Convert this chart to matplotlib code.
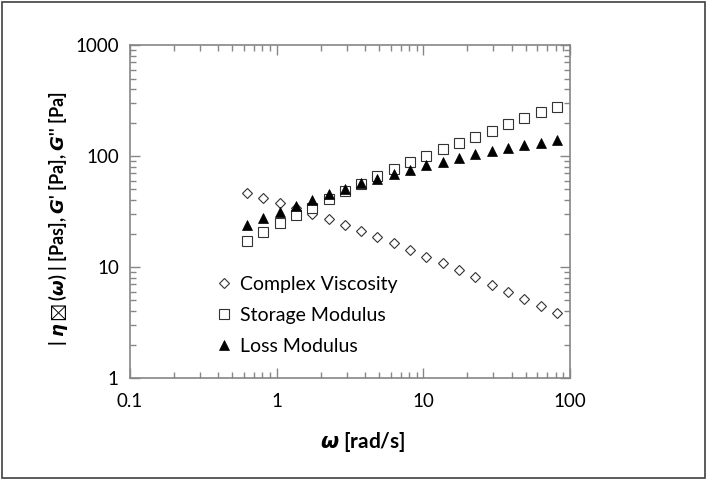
import matplotlib
matplotlib.use("Agg")
import matplotlib.pyplot as plt
from matplotlib.patches import Rectangle
from matplotlib.ticker import LogLocator, NullFormatter, FixedLocator, FixedFormatter

plt.rcParams['font.family'] = ['Lato', 'DejaVu Sans']
plt.rcParams['mathtext.fontset'] = 'custom'
plt.rcParams['mathtext.it'] = 'DejaVu Sans:italic:bold'
plt.rcParams['mathtext.rm'] = 'Lato:bold'

# angular frequency [rad/s]
omega = [0.63, 0.81, 1.05, 1.35, 1.75, 2.26, 2.92, 3.77, 4.87, 6.29,
         8.13, 10.5, 13.6, 17.5, 22.6, 29.2, 37.8, 48.8, 63.0, 81.5]
complex_viscosity = [46.9, 42.2, 38.1, 33.9, 30.3, 27.0, 24.0, 21.2, 18.5, 16.3,
                     14.3, 12.4, 10.8, 9.33, 8.07, 6.94, 6.00, 5.20, 4.50, 3.86]
storage_modulus = [17.0, 20.5, 24.7, 29.5, 34.4, 41.4, 48.5, 56.4, 66.1, 76.9,
                   88.3, 101, 116, 132, 150, 170, 194, 219, 250, 279]
loss_modulus = [24.0, 27.4, 31.4, 35.6, 40.3, 45.3, 50.2, 56.8, 62.5, 68.4,
                74.8, 82.4, 88.3, 96.6, 103.5, 111, 119, 125, 131, 139]

xticks = [0.1, 1, 10, 100]
xticklabels = ['0.1', '1', '10', '100']
yticks = [1, 10, 100, 1000]
yticklabels = ['1', '10', '100', '1000']

fig = plt.figure(figsize=(7.08, 4.8), dpi=100)
ax = fig.add_axes([0.1836, 0.2125, 0.805 - 0.1836, 0.906 - 0.2125])

ax.plot(omega, complex_viscosity, ls='none', marker='D', ms=5, mfc='white',
        mec='#333333', mew=0.8, label='Complex Viscosity')
ax.plot(omega, storage_modulus, ls='none', marker='s', ms=7, mfc='white',
        mec='#333333', mew=0.8, label='Storage Modulus')
ax.plot(omega, loss_modulus, ls='none', marker='^', ms=7.5, mfc='black',
        mec='black', mew=0.5, label='Loss Modulus')

ax.set_xscale('log')
ax.set_yscale('log')
ax.set_xlim(0.1, 100)
ax.set_ylim(1, 1000)

for axis, ticks, labels in ((ax.xaxis, xticks, xticklabels), (ax.yaxis, yticks, yticklabels)):
    axis.set_major_locator(FixedLocator(ticks))
    axis.set_major_formatter(FixedFormatter(labels))
    axis.set_minor_locator(LogLocator(base=10, subs=range(2, 10)))
    axis.set_minor_formatter(NullFormatter())

ax.tick_params(which='both', direction='in', top=True, right=True,
               color='#868686', labelsize=13.5, labelcolor='black')
ax.tick_params(which='major', length=7, width=1)
ax.tick_params(which='minor', length=4, width=1)
ax.tick_params(axis='x', pad=11)
ax.tick_params(axis='y', pad=8)
for sp in ax.spines.values():
    sp.set_color('#868686')
    sp.set_linewidth(1.2)

ax.set_xlabel(r'$\omega$ [rad/s]', fontsize=15, fontweight='bold')
ax.xaxis.set_label_coords(0.53, -0.155)
ax.set_ylabel(r"| $\eta\boxtimes$($\omega$) | [Pas], $G$' [Pa], $G$'' [Pa]",
              fontsize=13, fontweight='bold')
ax.yaxis.set_label_coords(-0.136, 0.48)

ax.legend(loc='upper left', bbox_to_anchor=(0.18, 0.33), frameon=False,
          fontsize=14, handlelength=0.7, handletextpad=0.5,
          labelspacing=0.72, borderaxespad=0)

fig.add_artist(Rectangle((0.003, 0.004), 0.993, 0.991, transform=fig.transFigure,
                         fill=False, edgecolor='#404040', linewidth=1.2))

fig.savefig('out.png', dpi=100)
